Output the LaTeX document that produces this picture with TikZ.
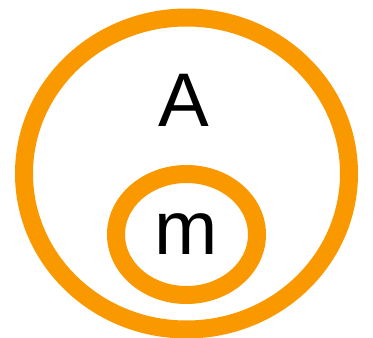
\documentclass[tikz,border=0pt]{standalone}
\usepackage{fontspec}
\setmainfont{Liberation Sans}
\usetikzlibrary{positioning}
\definecolor{ringorange}{RGB}{250,152,0}
\tikzset{
  ring/.style={draw=ringorange, line width=18pt},
  setlabel/.style={inner sep=0pt, font=\fontsize{76}{80}\selectfont}
}

\begin{document}
\begin{tikzpicture}[x=1pt, y=-1pt]
    \useasboundingbox (0,0) rectangle (373,338);

    % Outer set
    \draw[ring] (186.5,173.5) ellipse (162.5 and 156);
    \node[setlabel] (labelA) at (184,100) {A};

    % Inner set
    \draw[ring] (186.5,234.5) ellipse (70.5 and 60.5);
    \node[setlabel] (labelM) at (186,234) {m};
\end{tikzpicture}
\end{document}
